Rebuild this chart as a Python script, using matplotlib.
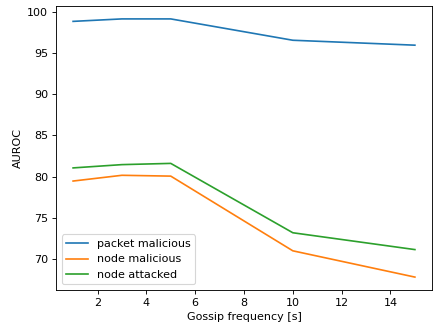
import matplotlib
matplotlib.use("Agg")
import matplotlib.pyplot as plt

gossip_freq = [1, 3, 5, 10, 15]
packet_malicious = [98.9, 99.2, 99.2, 96.6, 96.0]
node_malicious = [79.45, 80.15, 80.05, 70.95, 67.75]
node_attacked = [81.05, 81.45, 81.6, 73.15, 71.1]

W, H, DPI = 433, 324, 80
fig, ax = plt.subplots(figsize=(W / DPI, H / DPI), dpi=DPI)
ax.plot(gossip_freq, packet_malicious, label="packet malicious")
ax.plot(gossip_freq, node_malicious, label="node malicious")
ax.plot(gossip_freq, node_attacked, label="node attacked")
ax.set_xlabel("Gossip frequency [s]")
ax.set_ylabel("AUROC")
ax.legend(loc="lower left")
fig.subplots_adjust(left=56 / W, right=432 / W, top=1 - 6 / H, bottom=1 - 290 / H)
fig.savefig("out.png")
